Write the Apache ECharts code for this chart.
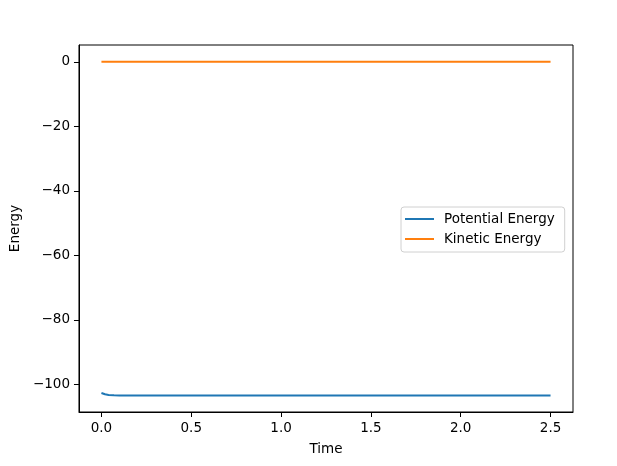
<!DOCTYPE html>
<html>
<head>
<meta charset="utf-8">
<script src="https://cdn.jsdelivr.net/npm/echarts@6/dist/echarts.min.js"></script>
<style>
    body{ margin:0; background:#fff; }
    #main{ width:617px; height:466px; }
</style>
</head>
<body>
<div id="main"></div>
<script>
    // values
    var time = [0, 0.01, 0.02, 0.03, 0.04, 0.05, 0.07, 0.1, 0.15, 0.2, 0.5, 1.0, 1.5, 2.0, 2.5];
    var potential = [-102.7, -102.95, -103.1, -103.22, -103.3, -103.36, -103.42, -103.46, -103.48, -103.49, -103.5, -103.5, -103.5, -103.5, -103.5];
    var kinetic = [0, 0, 0, 0, 0, 0, 0, 0, 0, 0, 0, 0, 0, 0, 0];
    var xTicks = [0, 0.5, 1.0, 1.5, 2.0, 2.5];
    var yTicks = [0, -20, -40, -60, -80, -100];

    function pairs(xs, ys){
        var out = [];
        for (var i = 0; i < xs.length; i++) out.push([xs[i], ys[i]]);
        return out;
    }

    var font = 'DejaVu Sans';
    var dom = document.getElementById('main');
    var myChart = echarts.init(dom, null, {renderer:'canvas'});

    var option = {
        animation: false,
        backgroundColor: '#fff',
        textStyle: { fontFamily: font },
        grid: { left: 77, right: 44, top: 45, bottom: 54, show: true, borderColor: '#000', borderWidth: 1 },
        legend: {
            orient: 'vertical',
            left: 401, top: 207,
            icon: 'rect',
            itemWidth: 29, itemHeight: 2,
            itemGap: 6,
            padding: [5, 10, 6, 4],
            borderColor: '#d0d0d0', borderWidth: 1, borderRadius: 3,
            textStyle: { fontFamily: font, fontSize: 13.5, color: '#000', padding: [0, 0, 0, 5] },
            data: ['Potential Energy', 'Kinetic Energy']
        },
        xAxis: {
            type: 'value',
            min: -0.125, max: 2.625,
            name: 'Time', nameLocation: 'middle', nameGap: 30,
            nameTextStyle: { fontFamily: font, fontSize: 13.5, color: '#000' },
            axisLine: { show: true, onZero: false, lineStyle: { color: '#000' } },
            axisTick: { show: true, inside: false, length: 5, customValues: xTicks, lineStyle: { color: '#000' } },
            axisLabel: { margin: 9, customValues: xTicks, fontFamily: font, fontSize: 13.5, color: '#000',
                formatter: function(v){ return v.toFixed(1); } },
            splitLine: { show: false }
        },
        yAxis: {
            type: 'value',
            min: -108.6, max: 5.2,
            name: 'Energy', nameLocation: 'middle', nameGap: 54, nameRotate: 90,
            nameTextStyle: { fontFamily: font, fontSize: 13.5, color: '#000' },
            axisLine: { show: true, onZero: false, lineStyle: { color: '#000' } },
            axisTick: { show: true, inside: false, length: 5, customValues: yTicks, lineStyle: { color: '#000' } },
            axisLabel: { margin: 9, customValues: yTicks, fontFamily: font, fontSize: 13.5, color: '#000',
                formatter: function(v){ return String(v).replace('-', '\u2212'); } },
            splitLine: { show: false }
        },
        series: [{
            name: 'Potential Energy',
            type: 'line',
            showSymbol: false,
            color: '#1f77b4',
            lineStyle: { width: 2, color: '#1f77b4' },
            data: pairs(time, potential)
        }, {
            name: 'Kinetic Energy',
            type: 'line',
            showSymbol: false,
            color: '#ff7f0e',
            lineStyle: { width: 2, color: '#ff7f0e' },
            data: pairs(time, kinetic)
        }]
    };
    myChart.setOption(option, true);
</script>
</body>
</html>
